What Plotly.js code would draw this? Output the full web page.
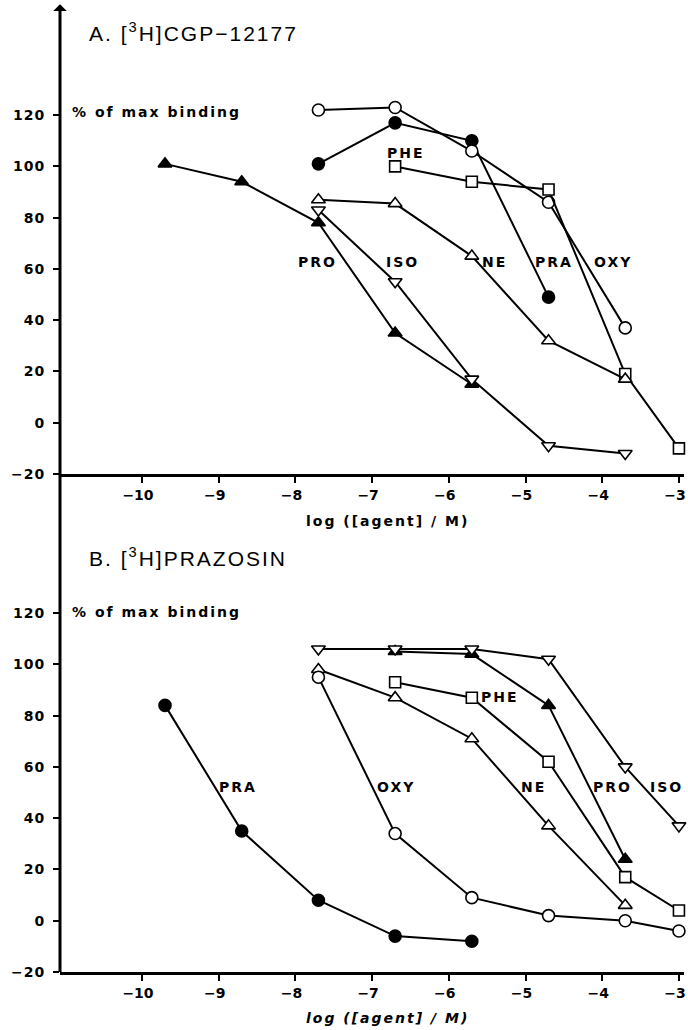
<!DOCTYPE html>
<html>
<head>
<meta charset="utf-8">
<script src="https://cdn.plot.ly/plotly-3.0.1.min.js"></script>
<style>
html,body{margin:0;padding:0;background:#fff;}
.annotation-text{letter-spacing:2px;}
.ytick text,.y2tick text{letter-spacing:1px;}
</style>
</head>
<body>
<div id="chart" style="width:688px;height:1030px;"></div>
<script>
// ---- Panel A: [3H]CGP-12177 ----
const aPRO_x = [-9.7, -8.7, -7.7, -6.7, -5.7];
const aPRO_y = [101, 94, 78, 35, 15];
const aISO_x = [-7.7, -6.7, -5.7, -4.7, -3.7];
const aISO_y = [83, 55, 17, -9, -12];
const aNE_x  = [-7.7, -6.7, -5.7, -4.7, -3.7];
const aNE_y  = [87, 85.5, 65, 32, 17];
const aPHE_x = [-6.7, -5.7, -4.7, -3.7, -3.0];
const aPHE_y = [100, 94, 91, 19, -10];
const aOXY_x = [-7.7, -6.7, -5.7, -4.7, -3.7];
const aOXY_y = [122, 123, 106, 86, 37];
const aPRA_x = [-7.7, -6.7, -5.7, -4.7];
const aPRA_y = [101, 117, 110, 49];

// ---- Panel B: [3H]PRAZOSIN ----
const bPRA_x = [-9.7, -8.7, -7.7, -6.7, -5.7];
const bPRA_y = [84, 35, 8, -6, -8];
const bOXY_x = [-7.7, -6.7, -5.7, -4.7, -3.7, -3.0];
const bOXY_y = [95, 34, 9, 2, 0, -4];
const bISO_x = [-7.7, -6.7, -5.7, -4.7, -3.7, -3.0];
const bISO_y = [106, 106, 106, 102, 60, 37];
const bPRO_x = [-6.7, -5.7, -4.7, -3.7];
const bPRO_y = [105, 104, 84, 24];
const bPHE_x = [-6.7, -5.7, -4.7, -3.7, -3.0];
const bPHE_y = [93, 87, 62, 17, 4];
const bNE_x  = [-7.7, -6.7, -5.7, -4.7, -3.7];
const bNE_y  = [98, 87, 71, 37, 6];

// ---- Axes ticks & texts ----
const xTickVals = [-10, -9, -8, -7, -6, -5, -4, -3];
const xTickText = ['\u221210', '\u22129', '\u22128', '\u22127', '\u22126', '\u22125', '\u22124', '\u22123'];
const yTickVals = [-20, 0, 20, 40, 60, 80, 100, 120];
const yTickText = ['\u221220', '0', '20', '40', '60', '80', '100', '120'];
const titleA = 'A. [<sup>3</sup>H]CGP\u221212177';
const titleB = 'B. [<sup>3</sup>H]PRAZOSIN';
const yLabel = '% of max binding';
const xLabel = 'log ([agent] / M)';

// label names and positions
const labelsA = ['PHE', 'PRO', 'ISO', 'NE', 'PRA', 'OXY'];
const labelsA_x = [-6.56, -7.71, -6.6, -5.41, -4.63, -3.86];
const labelsA_y = [105.3, 62.8, 62.8, 62.8, 62.8, 62.8];
const labelsB = ['PHE', 'PRA', 'OXY', 'NE', 'PRO', 'ISO'];
const labelsB_x = [-5.33, -8.75, -6.69, -4.9, -3.87, -3.16];
const labelsB_y = [87.3, 52, 52, 52, 52, 52];

function tr(x, y, symbol, filled, size, xa, ya) {
  return {
    x: x, y: y, xaxis: xa, yaxis: ya, type: 'scatter', mode: 'lines+markers',
    cliponaxis: false, hoverinfo: 'skip',
    line: {color: '#000', width: 2},
    marker: {symbol: symbol, size: size, color: filled ? '#000' : '#fff',
             line: {color: '#000', width: 1.6}}
  };
}

const data = [
  tr(aPRA_x, aPRA_y, 'circle', true, 12, 'x', 'y'),
  tr(aOXY_x, aOXY_y, 'circle', false, 12, 'x', 'y'),
  tr(aPHE_x, aPHE_y, 'square', false, 11, 'x', 'y'),
  tr(aPRO_x, aPRO_y, 'triangle-up', true, 12, 'x', 'y'),
  tr(aNE_x, aNE_y, 'triangle-up', false, 12, 'x', 'y'),
  tr(aISO_x, aISO_y, 'triangle-down', false, 12, 'x', 'y'),

  tr(bPRA_x, bPRA_y, 'circle', true, 12, 'x2', 'y2'),
  tr(bPRO_x, bPRO_y, 'triangle-up', true, 12, 'x2', 'y2'),
  tr(bNE_x, bNE_y, 'triangle-up', false, 12, 'x2', 'y2'),
  tr(bOXY_x, bOXY_y, 'circle', false, 12, 'x2', 'y2'),
  tr(bPHE_x, bPHE_y, 'square', false, 11, 'x2', 'y2'),
  tr(bISO_x, bISO_y, 'triangle-down', false, 12, 'x2', 'y2')
];

const tickFont = {family: 'DejaVu Sans', size: 14, color: '#000', weight: 'bold'};
function xax(anchor) {
  return {
    anchor: anchor, domain: [0, 1], range: [-11.069, -2.934],
    tickmode: 'array', tickvals: xTickVals, ticktext: xTickText,
    ticks: 'outside', ticklen: 6, tickwidth: 2, tickcolor: '#000',
    ticklabeloverflow: 'allow', ticklabelshift: -4,
    showline: true, linewidth: 3, linecolor: '#000',
    showgrid: false, zeroline: false, tickfont: tickFont
  };
}
function yax(anchor, domain, top) {
  return {
    anchor: anchor, domain: domain, range: [-20, top],
    tickmode: 'array', tickvals: yTickVals, ticktext: yTickText,
    ticks: 'outside', ticklen: 6, tickwidth: 2, tickcolor: '#000',
    ticklabelstandoff: 5, ticklabeloverflow: 'allow',
    showline: false, showgrid: false, zeroline: false, tickfont: tickFont
  };
}

const labFont = {family: 'DejaVu Sans', size: 14, color: '#000', weight: 'bold'};
const annotations = [];
labelsA.forEach((t, i) => annotations.push({xref: 'x', yref: 'y', x: labelsA_x[i], y: labelsA_y[i],
  text: t, showarrow: false, font: labFont, xanchor: 'center', yanchor: 'middle'}));
labelsB.forEach((t, i) => annotations.push({xref: 'x2', yref: 'y2', x: labelsB_x[i], y: labelsB_y[i],
  text: t, showarrow: false, font: labFont, xanchor: 'center', yanchor: 'middle'}));

const titleFont = {family: 'Liberation Sans, Arial, sans-serif', size: 21, color: '#000'};
annotations.push({xref: 'x', yref: 'y', x: -10.72, y: 152.4, text: titleA, showarrow: false,
  font: titleFont, xanchor: 'left', yanchor: 'middle'});
annotations.push({xref: 'x2', yref: 'y2', x: -10.72, y: 141.9, text: titleB, showarrow: false,
  font: titleFont, xanchor: 'left', yanchor: 'middle'});

annotations.push({xref: 'x', yref: 'y', x: -10.94, y: 121.2, text: yLabel, showarrow: false,
  font: labFont, xanchor: 'left', yanchor: 'middle'});
annotations.push({xref: 'x2', yref: 'y2', x: -10.94, y: 120.5, text: yLabel, showarrow: false,
  font: labFont, xanchor: 'left', yanchor: 'middle'});

annotations.push({xref: 'paper', yref: 'paper', x: 0.5256, y: 0.4678, text: xLabel, showarrow: false,
  font: labFont, xanchor: 'center', yanchor: 'middle'});
annotations.push({xref: 'paper', yref: 'paper', x: 0.5256, y: -0.0477, text: '<i>' + xLabel + '</i>', showarrow: false,
  font: labFont, xanchor: 'center', yanchor: 'middle'});

// arrow at top of y axis
annotations.push({xref: 'paper', yref: 'paper', x: 0, y: 1.004, ax: 0, ay: 16, text: ' ',
  showarrow: true, arrowhead: 1, arrowsize: 0.9, arrowwidth: 2.5, arrowcolor: '#000'});

const layout = {
  width: 688, height: 1030,
  margin: {l: 60, r: 4, t: 8, b: 58},
  paper_bgcolor: '#fff', plot_bgcolor: '#fff',
  showlegend: false,
  xaxis: xax('y'),
  yaxis: yax('x', [0.5166, 1], 161.8),
  xaxis2: xax('y2'),
  yaxis2: yax('x2', [0, 0.4896], 164.1),
  annotations: annotations,
  shapes: [
    {type: 'line', xref: 'paper', yref: 'paper', x0: 0, x1: 0, y0: 0, y1: 1,
     line: {color: '#000', width: 3}}
  ]
};

Plotly.newPlot('chart', data, layout, {staticPlot: true, displayModeBar: false});
</script>
</body>
</html>
